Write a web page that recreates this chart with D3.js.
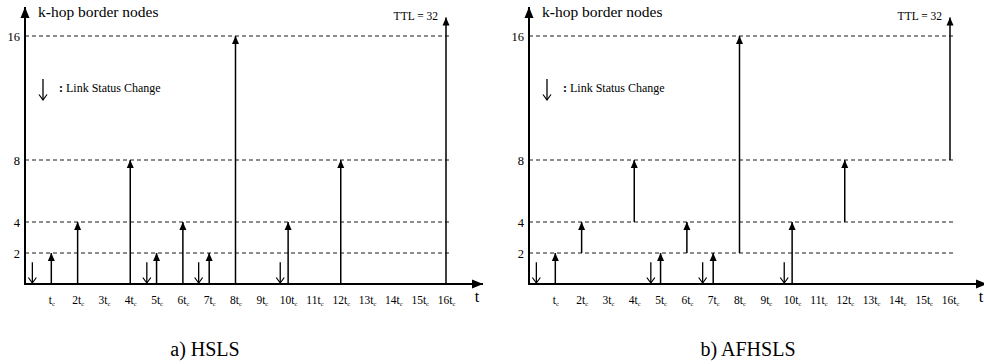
<!DOCTYPE html>
<html lang="en">
<head>
<meta charset="UTF-8">
<title>HSLS vs AFHSLS</title>
<script src="https://d3js.org/d3.v7.min.js"></script>
<style>
  body { margin: 0; background: #fff; }
  svg { display: block; }
</style>
</head>
<body>
<svg id="chart" width="984" height="364"></svg>
<script>
// time slots (multiples of t_c) and reference levels
var slots = d3.range(1, 17)
var levels = [2, 4, 8, 16]
var linkChanges = [0.28, 4.63, 6.6, 9.7]   // link status change instants, in t_c
var ttl = 32

// update arrows: slot, start level, end level
var stemAt     = [1, 2, 4, 5, 6, 7, 8, 10, 12, 16]
var hslsFrom   = [0, 0, 0, 0, 0, 0, 0, 0, 0, 0]
var hslsTo     = [2, 4, 8, 2, 4, 2, 16, 4, 8, ttl]
var afhslsFrom = [0, 2, 4, 0, 2, 0, 2, 0, 4, 8]
var afhslsTo   = [2, 4, 8, 2, 4, 2, 16, 4, 8, ttl]

var panels = [
  {caption: "a) HSLS",   left: 25,  capDx: 180, from: hslsFrom,   to: hslsTo},
  {caption: "b) AFHSLS", left: 529, capDx: 219, from: afhslsFrom, to: afhslsTo}
]

var serif = '"Liberation Serif", "Times New Roman", Tinos, serif'

var svg = d3.select("#chart")
var defs = svg.append("defs")

function marker(id, w, h, d, open) {
  defs.append("marker")
      .attr("id", id)
      .attr("markerUnits", "userSpaceOnUse")
      .attr("viewBox", `0 ${-h / 2} ${w} ${h}`)
      .attr("refX", open ? w - 0.5 : w)
      .attr("refY", 0)
      .attr("markerWidth", w)
      .attr("markerHeight", h)
      .attr("orient", "auto")
      .attr("overflow", "visible")
    .append("path")
      .attr("d", d)
      .attr("fill", open ? "none" : "#000")
      .attr("stroke", open ? "#000" : "none")
      .attr("stroke-width", 1.2)
}
marker("head", 8, 7, "M0,-3.5L8,0L0,3.5Z")
marker("bighead", 11, 9, "M0,-4.5L11,0L0,4.5Z")
marker("openhead", 6, 9, "M0,-4L5.5,0L0,4", true)

// 32 (TTL) sits above the 16 line, so clamp to the top of the range
var y = d3.scaleLinear().domain([0, 17.2]).range([284, 17.4]).clamp(true)

function drawPanel(p) {
  var x = d3.scaleLinear().domain([0, 16]).range([p.left, p.left + 421])
  var g = svg.append("g")

  // dashed levels
  g.append("g")
      .attr("stroke", "#000")
      .attr("stroke-width", 0.9)
      .attr("stroke-dasharray", "4,3")
    .selectAll("line")
    .data(levels)
    .join("line")
      .attr("x1", x(0))
      .attr("x2", x(16) + 6)
      .attr("y1", d => y(d))
      .attr("y2", d => y(d))

  // y tick labels
  g.append("g")
      .attr("transform", `translate(${x(0) - 3},0)`)
      .call(d3.axisLeft(y).tickValues(levels).tickSize(0).tickPadding(2))
      .call(a => a.select(".domain").remove())
      .call(a => a.selectAll("text").attr("fill", "#000").attr("font-size", 12.5))

  // x tick labels  k t_c
  g.append("g")
      .attr("transform", `translate(0,${y(0)})`)
      .call(d3.axisBottom(x).tickValues(slots).tickSize(0).tickPadding(12).tickFormat(""))
      .call(a => a.select(".domain").remove())
      .call(a => a.selectAll(".tick text").each(function(k) {
        var t = d3.select(this).attr("fill", "#000").attr("font-size", 11.5)
        t.append("tspan").text((k === 1 ? "" : k) + "t")
        t.append("tspan").attr("font-size", 6.5).attr("dy", 2).text("c")
      }))

  // axes with arrowheads
  g.append("line")
      .attr("x1", x(0)).attr("x2", x(0))
      .attr("y1", y(0) + 1).attr("y2", 7)
      .attr("stroke", "#000").attr("stroke-width", 2)
      .attr("marker-end", "url(#bighead)")
  g.append("line")
      .attr("x1", x(0) - 1).attr("x2", x(16) + 37)
      .attr("y1", y(0)).attr("y2", y(0))
      .attr("stroke", "#000").attr("stroke-width", 2)
      .attr("marker-end", "url(#bighead)")

  g.append("text")
      .attr("x", x(16) + 31).attr("y", 302)
      .attr("text-anchor", "middle")
      .attr("font-size", 16)
      .text("t")

  var yl = g.append("text")
      .attr("x", x(0) + 13).attr("y", 17)
      .attr("font-size", 15.5)
  yl.append("tspan").text("k")
  yl.append("tspan").attr("font-weight", "bold").text("-")
  yl.append("tspan").text("hop border nodes")

  // legend
  g.append("line")
      .attr("x1", x(0) + 18).attr("x2", x(0) + 18)
      .attr("y1", 79).attr("y2", 100)
      .attr("stroke", "#000").attr("stroke-width", 1.3)
      .attr("marker-end", "url(#openhead)")
  var lg = g.append("text")
      .attr("x", x(0) + 34).attr("y", 92)
      .attr("font-size", 12)
  lg.append("tspan").attr("font-weight", "bold").text(":")
  lg.append("tspan").text(" Link Status Change")

  g.append("text")
      .attr("x", x(16) - 8).attr("y", 20)
      .attr("text-anchor", "end")
      .attr("font-size", 11.5)
      .text("TTL = " + ttl)

  // update stems
  g.append("g")
      .attr("stroke", "#000")
      .attr("stroke-width", 1.5)
    .selectAll("line")
    .data(stemAt)
    .join("line")
      .attr("x1", d => x(d)).attr("x2", d => x(d))
      .attr("y1", (d, i) => y(p.from[i]))
      .attr("y2", (d, i) => y(p.to[i]))
      .attr("marker-end", "url(#head)")

  // link status changes
  g.append("g")
      .attr("stroke", "#000")
      .attr("stroke-width", 1.3)
    .selectAll("line")
    .data(linkChanges)
    .join("line")
      .attr("x1", d => x(d)).attr("x2", d => x(d))
      .attr("y1", y(1.4))
      .attr("y2", y(0) - 1)
      .attr("marker-end", "url(#openhead)")

  g.append("text")
      .attr("x", p.left + p.capDx).attr("y", 356)
      .attr("text-anchor", "middle")
      .attr("font-size", 20)
      .text(p.caption)
}

panels.forEach(drawPanel)

// font set on each text node directly
svg.selectAll("text, tspan").style("font-family", serif)
</script>
</body>
</html>
